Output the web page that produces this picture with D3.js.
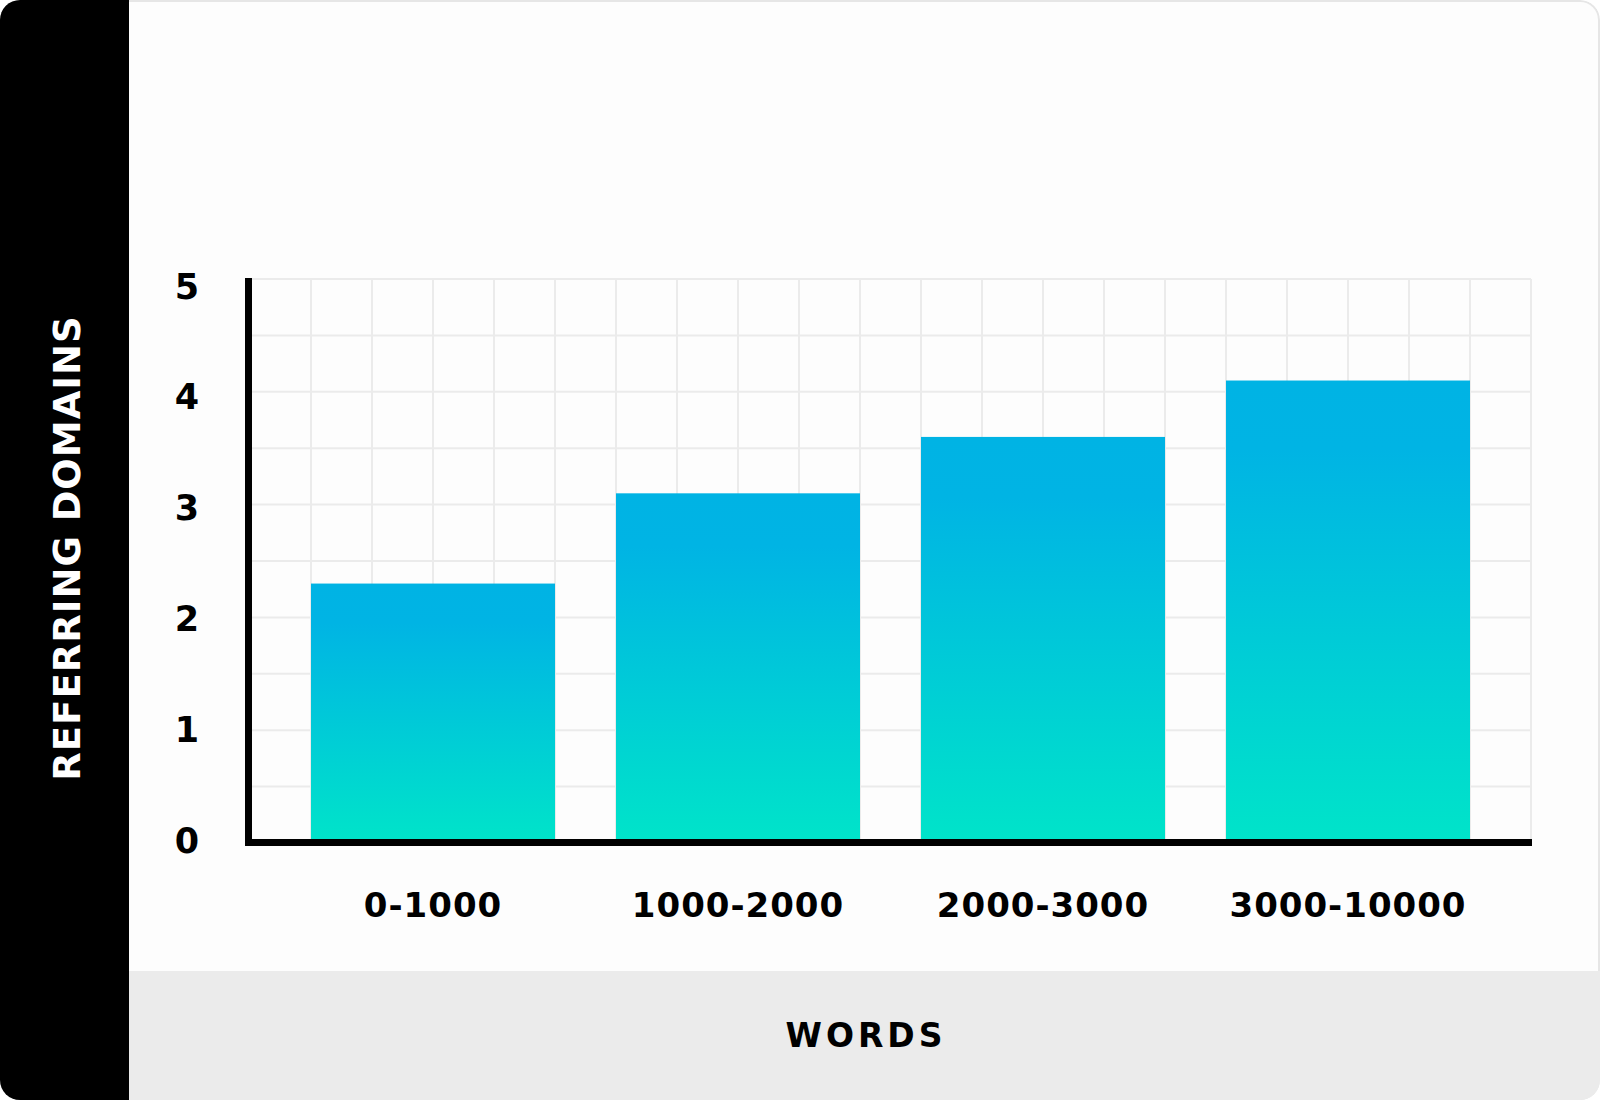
<!DOCTYPE html>
<html>
<head>
<meta charset="utf-8">
<script src="https://cdn.jsdelivr.net/npm/d3@7"></script>
<style>
  body { margin: 0; background: #ffffff; }
  text { font-family: "DejaVu Sans", sans-serif; font-weight: bold; }
</style>
</head>
<body>
<svg id="chart" width="1600" height="1100"></svg>
<script>
// data
const categories = ["0-1000", "1000-2000", "2000-3000", "3000-10000"];
const values = [2.3, 3.1, 3.6, 4.1];
const yTicks = [0, 1, 2, 3, 4, 5];
const xTitle = "WORDS";
const yTitle = "REFERRING DOMAINS";

const width = 1600;
const height = 1100;
let svg = d3.select("#chart");

let defs = svg.append("defs");
defs.append("clipPath").attr("id", "card")
  .append("rect")
  .attr("x", 0).attr("y", 0)
  .attr("width", width).attr("height", height)
  .attr("rx", 20).attr("ry", 20);

let grad = defs.append("linearGradient")
  .attr("id", "barGrad")
  .attr("x1", 0).attr("y1", 0).attr("x2", 0).attr("y2", 1);
grad.append("stop").attr("offset", "0%").attr("stop-color", "#00b3e4");
grad.append("stop").attr("offset", "15%").attr("stop-color", "#00b4e4");
grad.append("stop").attr("offset", "100%").attr("stop-color", "#00e4c9");

// card background, bottom band and black side bar
let card = svg.append("g").attr("clip-path", "url(#card)");
card.append("rect")
  .attr("x", 1).attr("y", 1)
  .attr("width", width - 2).attr("height", height - 2)
  .attr("rx", 19)
  .attr("fill", "#fdfdfd")
  .attr("stroke", "#e6e6e6")
  .attr("stroke-width", 2);
card.append("rect")
  .attr("x", 129).attr("y", 971)
  .attr("width", width - 129).attr("height", height - 971)
  .attr("fill", "#ebebeb");
card.append("rect")
  .attr("x", 0).attr("y", 0)
  .attr("width", 129).attr("height", height)
  .attr("fill", "#000000");

// scales
let x = d3.scaleBand()
  .domain(categories)
  .range([250, 1531])
  .paddingInner(0.2)
  .paddingOuter(0.2);

let y = d3.scaleLinear()
  .domain([0, 5])
  .range([843, 279]);

// tick labels sit a little apart from the grid lines in the original
let yLabel = d3.scaleLinear()
  .domain([0, 5])
  .range([840, 286]);

// grid
let grid = svg.append("g").attr("stroke", "#ebebeb").attr("stroke-width", 2);
let colWidth = x.step() * x.paddingInner(); // a bar spans four grid columns
let cols = d3.range(0, Math.round((x.range()[1] - x.range()[0]) / colWidth) + 1);

grid.selectAll(".vgrid")
  .data(cols)
  .enter()
  .append("line")
  .attr("class", "vgrid")
  .attr("x1", function (d) { return x.range()[0] + d * colWidth; })
  .attr("x2", function (d) { return x.range()[0] + d * colWidth; })
  .attr("y1", y(5))
  .attr("y2", y(0));

grid.selectAll(".hgrid")
  .data(y.ticks(10).filter(function (d) { return d > 0; }))
  .enter()
  .append("line")
  .attr("class", "hgrid")
  .attr("x1", x.range()[0])
  .attr("x2", x.range()[1])
  .attr("y1", function (d) { return y(d); })
  .attr("y2", function (d) { return y(d); });

// bars
svg.selectAll(".bar")
  .data(values)
  .enter()
  .append("rect")
  .attr("class", "bar")
  .attr("x", function (d, i) { return x(categories[i]); })
  .attr("width", x.bandwidth())
  .attr("y", function (d) { return y(d); })
  .attr("height", function (d) { return y(0) - y(d); })
  .attr("fill", "url(#barGrad)");

// axis lines
svg.append("path")
  .attr("d", "M" + 248.5 + "," + (y(5) - 1) + "V" + 842.5 + "H" + (x.range()[1] + 1))
  .attr("fill", "none")
  .attr("stroke", "#000")
  .attr("stroke-width", 7);

// y tick labels
svg.selectAll(".ylabel")
  .data(yTicks)
  .enter()
  .append("text")
  .attr("class", "ylabel")
  .attr("x", 187)
  .attr("y", function (d) { return yLabel(d); })
  .attr("dy", "0.36em")
  .attr("text-anchor", "middle")
  .attr("font-size", 35)
  .attr("fill", "#000")
  .text(function (d) { return d; });

// x labels
svg.selectAll(".xlabel")
  .data(categories)
  .enter()
  .append("text")
  .attr("class", "xlabel")
  .attr("x", function (d) { return x(d) + x.bandwidth() / 2; })
  .attr("y", 917)
  .attr("text-anchor", "middle")
  .attr("font-size", 34)
  .attr("letter-spacing", 1)
  .attr("fill", "#000")
  .text(function (d) { return d; });

// titles
svg.append("text")
  .attr("x", 866)
  .attr("y", 1047)
  .attr("text-anchor", "middle")
  .attr("font-size", 33)
  .attr("letter-spacing", 4)
  .attr("fill", "#000")
  .text(xTitle);

svg.append("text")
  .attr("transform", "translate(80,548) rotate(-90)")
  .attr("text-anchor", "middle")
  .attr("font-size", 37)
  .attr("letter-spacing", 1)
  .attr("fill", "#fff")
  .text(yTitle);
</script>
</body>
</html>
